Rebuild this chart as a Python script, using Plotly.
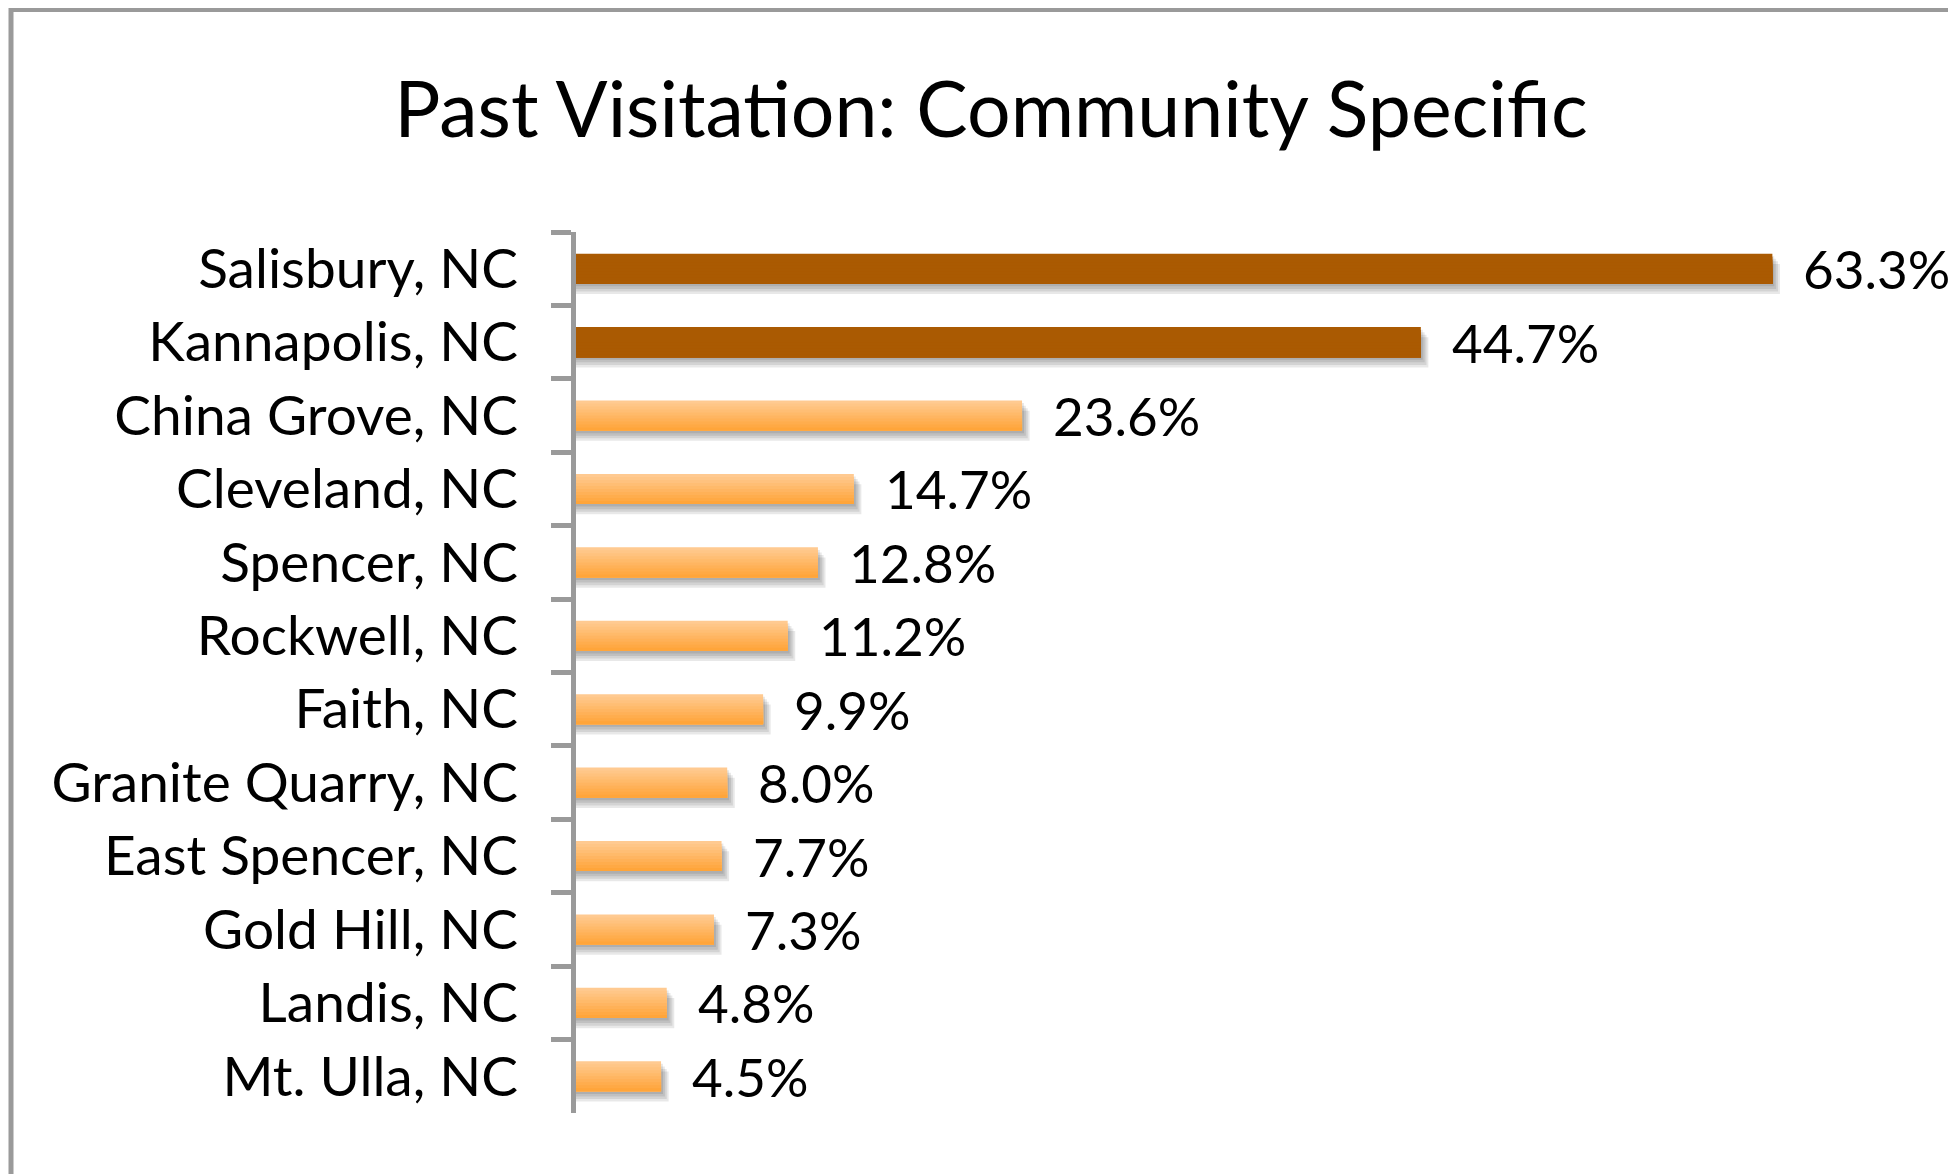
import plotly.graph_objects as go

# ── data ────────────────────────────────────────────────────────────────────
communities = [
    "Salisbury, NC", "Kannapolis, NC", "China Grove, NC", "Cleveland, NC",
    "Spencer, NC", "Rockwell, NC", "Faith, NC", "Granite Quarry, NC",
    "East Spencer, NC", "Gold Hill, NC", "Landis, NC", "Mt. Ulla, NC",
]
visited_pct = [63.3, 44.7, 23.6, 14.7, 12.8, 11.2, 9.9, 8.0, 7.7, 7.3, 4.8, 4.5]
highlight = [True, True] + [False] * 10

# ── style ───────────────────────────────────────────────────────────────────
FONT = "Lato"
DARK = (170, 90, 2)
LIGHT_TOP = (255, 202, 145)
LIGHT_BOT = (255, 165, 58)
BAR_W = 0.41
N_STRIPS = 10
GREY = "#9a9a9a"

# page body adds an 8px margin, so the figure is 8px smaller than the window
W, H = 1948, 1166
L, R, T, B = 568, 57, 224, 61
plot_w = W - L - R
plot_h = H - T - B


def rgb(c):
    return "rgb(%d,%d,%d)" % c


fig = go.Figure()

# soft drop shadow under every bar
for k in (1, 2, 3, 4):
    fig.add_trace(go.Bar(
        y=communities,
        x=[v + 0.1 * k for v in visited_pct],
        orientation="h",
        width=BAR_W,
        offset=-BAR_W / 2 + 0.035 * k,
        marker=dict(color="rgba(0,0,0,0.09)", line=dict(width=0)),
        hoverinfo="skip",
        showlegend=False,
    ))

# the bars: overlapping strips, each covering from its top edge down to the
# bar bottom, so the light bars get a vertical gradient without seams
for i in range(N_STRIPS):
    t = i / (N_STRIPS - 1)
    grad = tuple(int(round(a + (b - a) * t)) for a, b in zip(LIGHT_TOP, LIGHT_BOT))
    colors = [rgb(DARK) if h else rgb(grad) for h in highlight]
    fig.add_trace(go.Bar(
        y=communities,
        x=visited_pct,
        orientation="h",
        width=BAR_W - i * BAR_W / N_STRIPS,
        offset=-BAR_W / 2 + i * BAR_W / N_STRIPS,
        marker=dict(color=colors, line=dict(width=0)),
        hovertemplate="%{y}: %{x:.1f}%<extra></extra>",
        showlegend=False,
    ))

# value labels
for name, v in zip(communities, visited_pct):
    fig.add_annotation(
        x=v, y=name, text=f"{v:.1f}%",
        xanchor="left", yanchor="middle", xshift=29, showarrow=False,
        font=dict(family=FONT, size=53, color="black"),
    )

# outer frame (only its top-left corner shows in the picture)
fig.add_shape(
    type="rect", xref="paper", yref="paper",
    x0=(3 - L) / plot_w, x1=1.2,
    y0=-0.2, y1=(T + plot_h - 1.5) / plot_h,
    line=dict(color=GREY, width=5), layer="below",
)

fig.update_layout(
    width=W, height=H,
    margin=dict(l=L, r=R, t=T, b=B),
    paper_bgcolor="white", plot_bgcolor="white",
    barmode="overlay",
    title=dict(
        text="Past Visitation: Community Specific",
        x=983 / W, xanchor="center",
        y=1 - 102 / H, yanchor="middle",
        font=dict(family=FONT, size=77, color="black"),
    ),
    xaxis=dict(visible=False, range=[0, 70], fixedrange=True),
    yaxis=dict(
        autorange="reversed",
        showline=True, linecolor=GREY, linewidth=5,
        ticks="outside", tickson="boundaries",
        ticklen=20, tickwidth=5, tickcolor=GREY,
        ticklabelstandoff=42,
        showgrid=False, zeroline=False,
        tickfont=dict(family=FONT, size=55, color="black"),
    ),
)

fig.write_html("out.html")
